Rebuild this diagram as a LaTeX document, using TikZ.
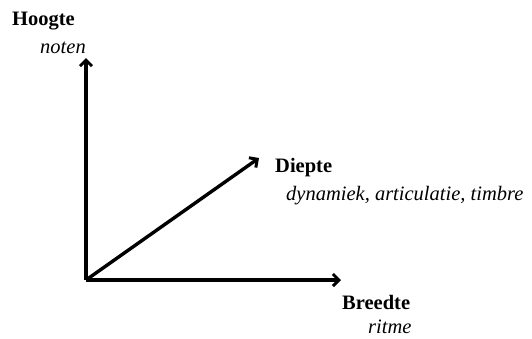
\documentclass[tikz,border=0pt]{standalone}
\usepackage{fontspec}
\setmainfont{Liberation Serif}
\usetikzlibrary{arrows.meta}
\begin{document}
\begin{tikzpicture}[x=1pt,y=-1pt,
  axis/.style={line width=3.4pt,-{Straight Barb[length=6pt,width=12pt,line width=3pt]}},
  title/.style={anchor=base west,inner sep=0pt,font=\fontsize{20.5}{22}\selectfont\bfseries},
  sub/.style={anchor=base west,inner sep=0pt,font=\fontsize{20.5}{22}\selectfont\itshape}]
\useasboundingbox (0,0) rectangle (532,338);
\coordinate (o) at (86,280);
\coordinate (h) at (86,58);
\coordinate (b) at (341,280);
\coordinate (d) at (259,158);
\draw[axis] (o) -- (h);
\draw[axis] (o) -- (b);
\draw[axis] (o) -- (d);
\node[title] (th) at (12,25) {Hoogte};
\node[sub] (sh) at (40,53) {noten};
\node[title] (td) at (275,172) {Diepte};
\node[sub] (sd) at (286,200) {dynamiek, articulatie, timbre};
\node[title] (tb) at (342,309) {Breedte};
\node[sub] (sb) at (368,333) {ritme};
\end{tikzpicture}
\end{document}
